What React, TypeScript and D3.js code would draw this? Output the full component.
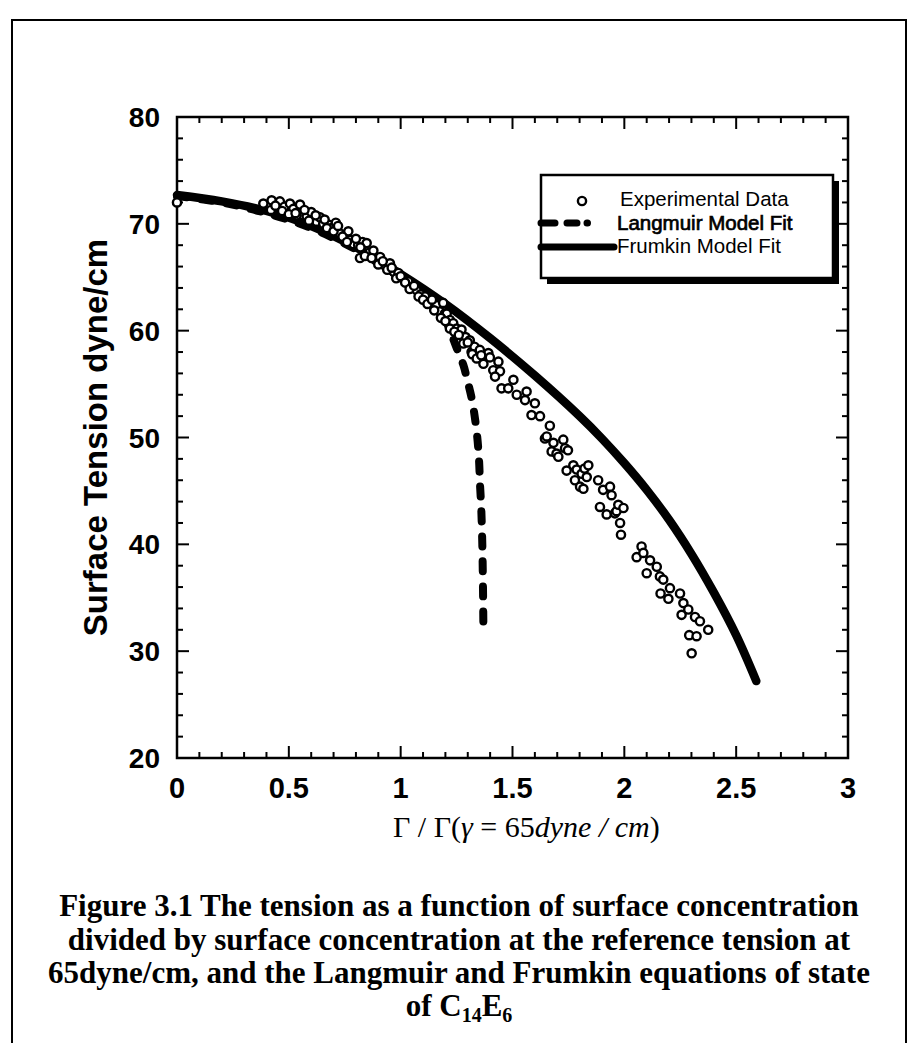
import React from "react";
import * as d3 from "d3";

const xTickValues = [0, 0.5, 1, 1.5, 2, 2.5, 3];
const xTickLabels = ["0", "0.5", "1", "1.5", "2", "2.5", "3"];
const yTickValues = [20, 30, 40, 50, 60, 70, 80];
const yTickLabels = ["20", "30", "40", "50", "60", "70", "80"];

const expX = [
  0, 0.386, 0.423, 0.46, 0.48, 0.505, 0.52, 0.55, 0.535, 0.58, 0.6, 0.624, 0.64, 0.654, 0.68, 0.691,
  0.71, 0.729, 0.75, 0.766, 0.773, 0.79, 0.81, 0.818, 0.83, 0.848, 0.86, 0.878, 0.89, 0.908, 0.93,
  0.952, 0.97, 0.99, 1.01, 1.034, 1.05, 1.071, 1.09, 1.109, 1.13, 1.16, 1.175, 1.19, 1.198, 1.206,
  1.22, 1.235, 1.25, 1.272, 1.29, 1.309, 1.317, 1.33, 1.354, 1.37, 1.392, 1.399, 1.414, 1.437, 1.444,
  1.422, 1.451, 1.481, 1.504, 1.519, 1.556, 1.563, 1.585, 1.6, 1.623, 1.645, 1.653, 1.667, 1.675,
  1.683, 1.697, 1.705, 1.727, 1.735, 1.742, 1.748, 1.772, 1.779, 1.787, 1.802, 1.809, 1.817, 1.822,
  1.832, 1.839, 1.883, 1.891, 1.905, 1.921, 1.936, 1.943, 1.958, 1.965, 1.973, 1.981, 1.985, 1.996,
  2.055, 2.077, 2.085, 2.1, 2.115, 2.145, 2.159, 2.174, 2.162, 2.197, 2.204, 2.249, 2.256, 2.264,
  2.286, 2.29, 2.301, 2.316, 2.323, 2.338, 2.375,
  0.42, 0.44, 0.47, 0.5, 0.53, 0.57, 0.59, 0.62, 0.66, 0.67, 0.7, 0.72, 0.74, 0.76, 0.8, 0.82,
  0.84, 0.87, 0.9, 0.92, 0.94, 0.96, 0.98, 1.0, 1.02, 1.04, 1.06, 1.08, 1.1, 1.12, 1.14, 1.15,
  1.18, 1.2, 1.22, 1.24, 1.26, 1.28, 1.3, 1.32, 1.34, 1.36,
];
const expY = [
  72.0, 71.9, 72.2, 72.1, 71.6, 71.9, 71.4, 71.8, 70.8, 70.7, 71.1, 70.2, 70.6, 70.0, 69.9, 69.6,
  70.1, 69.1, 68.9, 69.3, 68.5, 68.1, 68.0, 66.8, 68.3, 68.2, 67.3, 67.5, 66.6, 66.9, 66.1,
  66.3, 65.5, 65.4, 64.9, 64.6, 64.0, 63.8, 63.4, 63.2, 62.7, 62.4, 61.8, 62.6, 61.6, 61.6,
  61.0, 60.7, 60.2, 60.1, 59.4, 59.1, 58.0, 58.5, 58.2, 56.9, 57.9, 57.5, 56.3, 57.1, 56.2,
  55.7, 54.6, 54.6, 55.4, 54.0, 53.5, 54.3, 52.1, 53.2, 52.0, 49.9, 50.1, 51.1, 48.7,
  49.5, 48.5, 48.2, 49.8, 49.0, 46.9, 48.8, 47.4, 46.0, 47.0, 45.4, 46.6, 45.2, 47.1,
  46.3, 47.4, 46.0, 43.5, 45.1, 42.8, 45.4, 44.6, 42.9, 43.1, 43.7, 42.0, 40.9, 43.4,
  38.8, 39.8, 39.2, 37.3, 38.5, 37.9, 37.0, 36.7, 35.4, 34.9, 35.9, 35.4, 33.4, 34.5,
  33.9, 31.5, 29.8, 33.2, 31.4, 32.8, 32.0,
  71.3, 71.7, 71.2, 70.9, 71.0, 71.3, 70.3, 70.8, 70.4, 69.6, 69.3, 69.8, 68.8, 68.3, 68.6, 67.8,
  67.0, 66.8, 66.2, 66.5, 65.7, 65.9, 64.9, 65.1, 64.5, 63.9, 64.2, 63.2, 62.9, 62.5, 62.9, 61.9,
  61.2, 60.9, 60.2, 59.9, 59.6, 58.8, 58.9, 57.8, 57.4, 57.7,
];

const frumkinX = [0, 0.2, 0.4, 0.6, 0.8, 1.0, 1.2, 1.4, 1.6, 1.8, 1.9, 2.0, 2.1, 2.2, 2.3, 2.4, 2.5, 2.59];
const frumkinY = [72.7, 72.1, 71.2, 69.8, 67.8, 65.3, 62.5, 59.3, 55.8, 52.0, 49.9, 47.6, 45.1, 42.3, 39.1, 35.5, 31.5, 27.2];

const langmuirX = [0, 0.2, 0.4, 0.6, 0.8, 1.0, 1.1, 1.15, 1.2, 1.25, 1.28, 1.3, 1.32, 1.34, 1.35, 1.355, 1.36, 1.365, 1.368, 1.37];
const langmuirY = [72.6, 72.0, 71.0, 69.6, 67.6, 65.0, 63.6, 62.6, 61.0, 58.4, 56.8, 55.2, 53.4, 50.5, 48.0, 45.5, 43.5, 40.0, 36.0, 31.8];

const legendLabels = ["Experimental Data", "Langmuir Model Fit", "Frumkin Model Fit"];

const W = 911;
const H = 1043;
const left = 177, right = 848, top = 117, bottom = 758;

export default function App() {
  const x = d3.scaleLinear().domain([0, 3]).range([left, right]);
  const y = d3.scaleLinear().domain([20, 80]).range([bottom, top]);

  const frumkinPts = frumkinX.map((v, i) => [v, frumkinY[i]] as [number, number]);
  const langPts = langmuirX.map((v, i) => [v, langmuirY[i]] as [number, number]);
  const line = d3
    .line<[number, number]>()
    .x((d) => x(d[0]))
    .y((d) => y(d[1]))
    .curve(d3.curveCatmullRom.alpha(0.5));

  const xMinor = d3.range(0, 31).map((i) => i / 10);
  const yMinor = d3.range(20, 81, 2);
  const isMajorX = (v: number) => Math.abs(v * 2 - Math.round(v * 2)) < 1e-6;
  const isMajorY = (v: number) => v % 10 === 0;

  const sans = "'Liberation Sans', Arial, Helvetica, sans-serif";
  const serif = "'Liberation Serif', 'Times New Roman', Times, serif";

  return (
    <div style={{ position: "absolute", left: 0, top: 0 }}>
      <svg width={W} height={H} viewBox={`0 0 ${W} ${H}`} style={{ display: "block", background: "#fff" }}>
        <rect x={0} y={0} width={W} height={H} fill="#fff" />
        {/* outer frame */}
        <path d={`M12,${H + 5} L12,20 L906,20 L906,${H + 5}`} fill="none" stroke="#000" strokeWidth={2} />

        {/* ticks */}
        {xMinor.map((v, i) => {
          const len = isMajorX(v) ? 12 : 6;
          return (
            <g key={"xt" + i} stroke="#000" strokeWidth={2}>
              <line x1={x(v)} x2={x(v)} y1={bottom} y2={bottom - len} />
              <line x1={x(v)} x2={x(v)} y1={top} y2={top + len} />
            </g>
          );
        })}
        {yMinor.map((v, i) => {
          const len = isMajorY(v) ? 12 : 6;
          return (
            <g key={"yt" + i} stroke="#000" strokeWidth={2}>
              <line x1={left} x2={left + len} y1={y(v)} y2={y(v)} />
              <line x1={right} x2={right - len} y1={y(v)} y2={y(v)} />
            </g>
          );
        })}
        <rect x={left} y={top} width={right - left} height={bottom - top} fill="none" stroke="#000" strokeWidth={2.5} />

        {/* curves */}
        <path d={line(frumkinPts) || ""} fill="none" stroke="#000" strokeWidth={8.5} strokeLinecap="round" />
        <path
          d={line(langPts) || ""}
          fill="none"
          stroke="#000"
          strokeWidth={8}
          strokeLinecap="round"
          strokeDasharray="10 15"
        />

        {/* experimental data */}
        {expX.map((v, i) => (
          <circle key={"p" + i} cx={x(v)} cy={y(expY[i])} r={4.1} fill="#fff" stroke="#000" strokeWidth={2.4} />
        ))}

        {/* tick labels */}
        {yTickValues.map((v, i) => (
          <text key={"yl" + i} x={160} y={y(v) + 10} textAnchor="end" fontFamily={sans} fontWeight="bold" fontSize={28}>
            {yTickLabels[i]}
          </text>
        ))}
        {xTickValues.map((v, i) => (
          <text key={"xl" + i} x={x(v)} y={798} textAnchor="middle" fontFamily={sans} fontWeight="bold" fontSize={29}>
            {xTickLabels[i]}
          </text>
        ))}

        {/* axis titles */}
        <text
          transform={`translate(107,${(top + bottom) / 2}) rotate(-90)`}
          textAnchor="middle"
          fontFamily={sans}
          fontWeight="bold"
          fontSize={33}
        >
          Surface Tension dyne/cm
        </text>
        <text x={393} y={837} fontFamily={serif} fontSize={30}>
          <tspan>Γ / Γ(</tspan>
          <tspan fontStyle="italic">γ</tspan>
          <tspan> = 65</tspan>
          <tspan fontStyle="italic">dyne / cm</tspan>
          <tspan>)</tspan>
        </text>

        {/* legend */}
        <rect x={547} y={181} width={292} height={103} fill="#000" />
        <rect x={541} y={175} width={292} height={103} fill="#fff" stroke="#000" strokeWidth={2.5} />
        <circle cx={582} cy={201} r={4.1} fill="#fff" stroke="#000" strokeWidth={2.4} />
        <text x={620} y={206} fontFamily={sans} fontSize={20.5}>
          {legendLabels[0]}
        </text>
        <line x1={541} x2={612} y1={223} y2={223} stroke="#000" strokeWidth={7} strokeLinecap="round" strokeDasharray="14 12 10 10 0.5 40" />
        <text x={617} y={229.5} fontFamily={sans} fontSize={20.5} stroke="#000" strokeWidth={0.7}>
          {legendLabels[1]}
        </text>
        <line x1={541} x2={614} y1={247} y2={247} stroke="#000" strokeWidth={7} strokeLinecap="round" />
        <text x={617} y={253} fontFamily={sans} fontSize={20.5}>
          {legendLabels[2]}
        </text>

        {/* caption */}
        <g fontFamily={serif} fontWeight="bold" fontSize={31} textAnchor="middle">
          <text x={459} y={916}>Figure 3.1 The tension as a function of surface concentration</text>
          <text x={459} y={950}>divided by surface concentration at the reference tension at</text>
          <text x={459} y={983}>65dyne/cm, and the Langmuir and Frumkin equations of state</text>
          <text x={459} y={1016}>
            of C<tspan fontSize={20} dy={6}>14</tspan>
            <tspan dy={-6}>E</tspan>
            <tspan fontSize={20} dy={6}>6</tspan>
          </text>
        </g>
      </svg>
    </div>
  );
}
